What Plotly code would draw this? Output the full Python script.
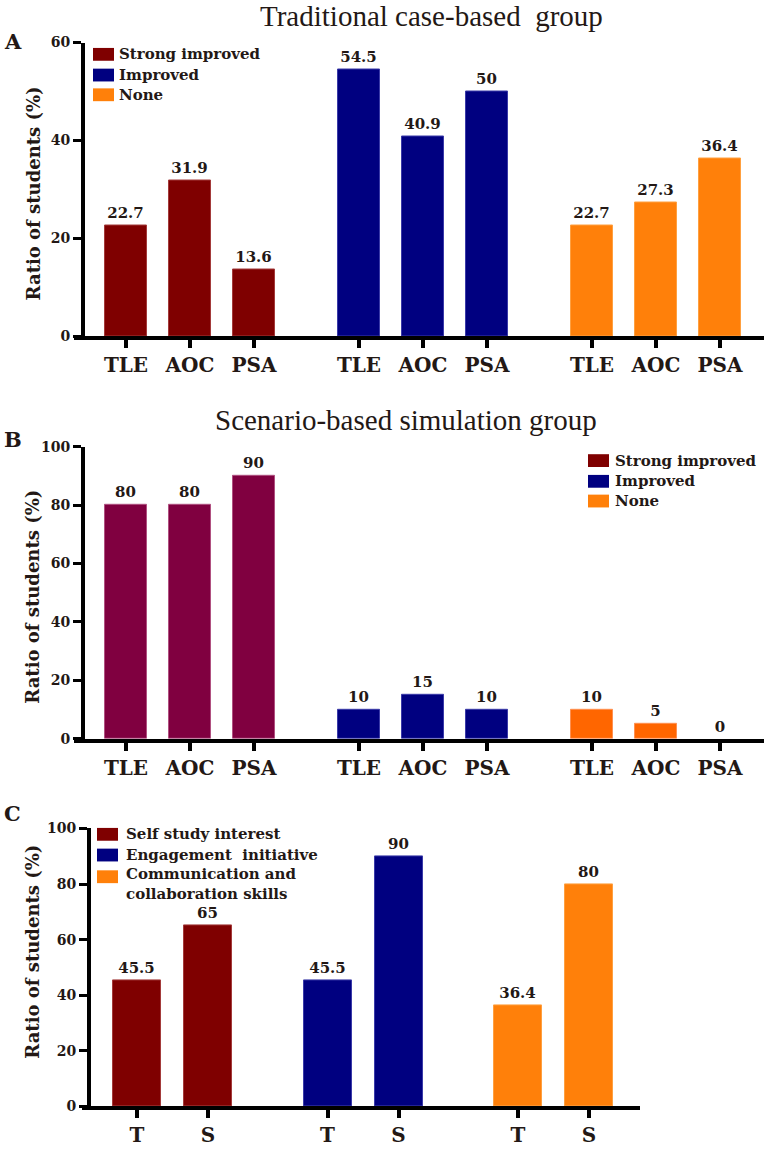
import plotly.graph_objects as go

W, H = 768, 1149

# ---------------- data ----------------
series_AB = ["Strong improved", "Improved", "None"]
skills = ["TLE", "AOC", "PSA"]
A_strong = [22.7, 31.9, 13.6]
A_improved = [54.5, 40.9, 50]
A_none = [22.7, 27.3, 36.4]
B_strong = [80, 80, 90]
B_improved = [10, 15, 10]
B_none = [10, 5, 0]
series_C = ["Self study interest", "Engagement\u00a0 initiative", "Communication and<br>collaboration skills"]
C_cats = ["T", "S"]
C_self = [45.5, 65]
C_engage = [45.5, 90]
C_comm = [36.4, 80]

titles = ["Traditional case-based\u00a0 group", "Scenario-based simulation group"]
ytitle = "Ratio of students (%)"

# ---------------- styles ----------------
TXT = "#231815"
SERIF = "Liberation Serif"
BSERIF = "DejaVu Serif"
colA = ["#7F0000", "#000080", "#FF800A"]
lineA = ["#A33A3A", "#3A3AA8", "#FFA040"]
colB = ["#800040", "#000080", "#FF6600"]
lineB = ["#B05080", "#3A3AA8", "#FF9050"]
legB = ["#7F0000", "#000080", "#FF800A"]


def fx(px):
    return px / W


def fy(py):
    return 1 - py / H


def bfont(size):
    return dict(family=BSERIF, size=size, color=TXT, weight="bold")


fig = go.Figure()

panels = [
    dict(key="", data=[A_strong, A_improved, A_none], cats=skills, cols=colA, lines=lineA,
         xdom=(74, 764), ypx=(35, 333), ypos=83, unit=64, x0=126, step=233 / 64, bw=0.66,
         yr=60),
    dict(key="2", data=[B_strong, B_improved, B_none], cats=skills, cols=colB, lines=lineB,
         xdom=(74, 764), ypx=(445, 741), ypos=83, unit=64, x0=126, step=233 / 64, bw=0.66,
         yr=100),
    dict(key="3", data=[C_self, C_engage, C_comm], cats=C_cats, cols=colA, lines=lineA,
         xdom=(82, 640), ypx=(832, 1114), ypos=89, unit=71, x0=137, step=190.5 / 71, bw=0.676,
         yr=100),
]

layout_axes = {}
for p in panels:
    k = p["key"]
    tickvals, ticktext = [], []
    for g, vals in enumerate(p["data"]):
        xs = [g * p["step"] + i for i in range(len(vals))]
        tickvals += xs
        ticktext += p["cats"]
        fig.add_trace(go.Bar(
            x=xs, y=vals, width=p["bw"],
            marker=dict(color=p["cols"][g],
                        line=dict(color=p["lines"][g], width=[1 if v > 0 else 0 for v in vals])),
            text=[f"{v:g}" for v in vals], textposition="outside",
            textfont=bfont(15),
            constraintext="none", cliponaxis=False,
            xaxis="x" + k, yaxis="y" + k, showlegend=False, hoverinfo="skip",
        ))
    xr = [(p["xdom"][0] - p["x0"]) / p["unit"], (p["xdom"][1] - p["x0"]) / p["unit"]]
    layout_axes["xaxis" + k] = dict(
        domain=[fx(p["xdom"][0]), fx(p["xdom"][1])], range=xr, anchor="y" + k,
        showline=True, linewidth=4, linecolor="black", showgrid=False, zeroline=False,
        ticks="outside", ticklen=8, tickwidth=4, tickcolor="black",
        tickvals=tickvals, ticktext=ticktext,
        tickfont=bfont(20), fixedrange=True,
    )
    layout_axes["yaxis" + k] = dict(
        domain=[fy(p["ypx"][1]), fy(p["ypx"][0])], range=[0, p["yr"]], anchor="free",
        position=fx(p["ypos"]), dtick=20, tick0=0,
        showline=True, linewidth=4, linecolor="black", showgrid=False, zeroline=False,
        ticks="outside", ticklen=8, tickwidth=3, tickcolor="black",
        tickfont=bfont(14), fixedrange=True,
    )

fig.update_layout(**layout_axes)

ann = []
shapes = []

# titles
ann.append(dict(text=titles[0], x=fx(258), y=fy(8), xanchor="left", yanchor="middle",
                font=dict(family=SERIF, size=29, color=TXT)))
ann.append(dict(text=titles[1], x=fx(213), y=fy(418), xanchor="left", yanchor="middle",
                font=dict(family=SERIF, size=29, color=TXT)))

# panel letters
for letter, (lx, ly) in zip(["A", "B", "C"], [(13, 34), (13, 438), (12, 817)]):
    ann.append(dict(text=letter, x=fx(lx), y=fy(ly), xanchor="center", yanchor="middle",
                    font=bfont(21)))

# y titles
for cy in [188, 597, 957]:
    ann.append(dict(text=ytitle, x=fx(33), y=fy(cy), textangle=-90,
                    xanchor="center", yanchor="middle", font=bfont(18)))


def legend(names, cols, sx, tx, rows):
    for name, c, r in zip(names, cols, rows):
        shapes.append(dict(type="rect", xref="paper", yref="paper",
                           x0=fx(sx), x1=fx(sx + 21), y0=fy(r - 6.5), y1=fy(r + 6.5),
                           fillcolor=c, line=dict(width=0)))
        nlines = name.count("<br>") + 1
        # multi-line label: centre of block lies half a line below the first line
        cy = r + (nlines - 1) * 7
        ann.append(dict(text=name, x=fx(tx), y=fy(cy), align="left",
                        xanchor="left", yanchor="middle", font=bfont(15)))


legend(series_AB, colA, 93, 117, [47, 68, 88])
legend(series_AB, legB, 588, 613, [459, 480, 500])
legend(series_C, colA, 97, 124, [838, 859, 881])

for a in ann:
    a.update(xref="paper", yref="paper", showarrow=False)

fig.update_layout(
    width=W, height=H, margin=dict(l=0, r=0, t=0, b=0),
    paper_bgcolor="white", plot_bgcolor="white",
    annotations=ann, shapes=shapes, showlegend=False, bargap=0,
)

fig.write_html("out.html", config={"displayModeBar": False})
